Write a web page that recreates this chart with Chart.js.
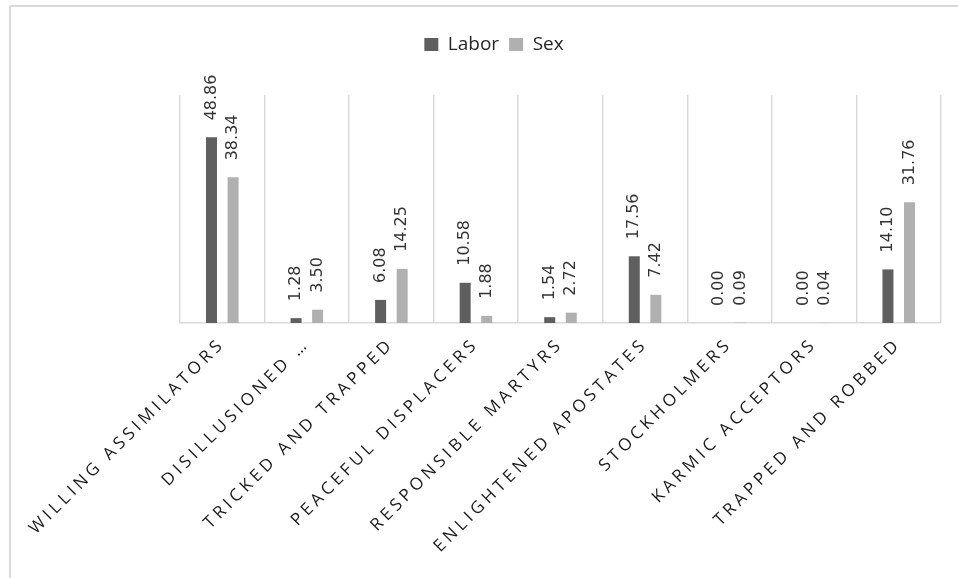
<!DOCTYPE html>
<html>
<head>
<meta charset="utf-8">
<script src="https://cdn.jsdelivr.net/npm/chart.js@4/dist/chart.umd.min.js"></script>
<style>
  html, body { margin: 0; padding: 0; background: #fff; overflow: hidden; }
  #frame { position: absolute; left: 9px; top: 5px; width: 1100px; height: 1100px; border: 2px solid #d9d9d9; border-radius: 3px; }
  #wrap { position: absolute; left: 0; top: 0; width: 958px; height: 578px; }
</style>
</head>
<body>
<div id="frame"></div>
<div id="wrap"><canvas id="chart" width="958" height="578"></canvas></div>
<script>
const categories = [
    'WILLING ASSIMILATORS',
    'DISILLUSIONED \u2026',
    'TRICKED AND TRAPPED',
    'PEACEFUL DISPLACERS',
    'RESPONSIBLE MARTYRS',
    'ENLIGHTENED APOSTATES',
    'STOCKHOLMERS',
    'KARMIC ACCEPTORS',
    'TRAPPED AND ROBBED'
];
const labor = [48.86, 1.28, 6.08, 10.58, 1.54, 17.56, 0.00, 0.00, 14.10];
const sex = [38.34, 3.50, 14.25, 1.88, 2.72, 7.42, 0.09, 0.04, 31.76];

// value labels above each bar, turned on their side
const barLabels = {
    id: 'barLabels',
    afterDatasetsDraw(chart) {
        const ctx = chart.ctx;
        chart.data.datasets.forEach((ds, i) => {
            chart.getDatasetMeta(i).data.forEach((bar, j) => {
                ctx.save();
                ctx.translate(bar.x, bar.y - 17);
                ctx.rotate(-Math.PI / 2);
                ctx.font = '16px "DejaVu Sans"';
                ctx.fillStyle = '#333333';
                ctx.textAlign = 'left';
                ctx.textBaseline = 'middle';
                ctx.fillText(ds.data[j].toFixed(2), 0, 0);
                ctx.restore();
            });
        });
    }
};

// spaced caps on the category axis, legend room and centering
const tweaks = {
    id: 'tweaks',
    beforeLayout(chart) {
        const lg = chart.legend;
        if (lg && !lg._patched) {
            const fit = lg.fit;
            lg.fit = function () {
                fit.call(this);
                this.height += 31;
            };
            lg._patched = true;
        }
    },
    afterLayout(chart) {
        const sx = chart.scales.x;
        if (!sx._spaced) {
            const orig = sx.drawLabels;
            sx.drawLabels = function (area) {
                this.ctx.save();
                this.ctx.letterSpacing = '4px';
                orig.call(this, area);
                this.ctx.restore();
            };
            sx._spaced = true;
        }
        const lg = chart.legend;
        if (lg) {
            lg.left = 0;
            lg.right = 988;
        }
    }
};

const chart = new Chart(document.getElementById('chart'), {
    type: 'bar',
    data: {
        labels: categories,
        datasets: [
            { label: 'Labor', data: labor, backgroundColor: '#5f5f5f', categoryPercentage: 0.51, barPercentage: 0.51 },
            { label: 'Sex', data: sex, backgroundColor: '#b0b0b0', categoryPercentage: 0.51, barPercentage: 0.51 }
        ]
    },
    options: {
        responsive: false,
        animation: false,
        layout: { padding: { left: 180, right: 17, top: 25, bottom: 0 } },
        plugins: {
            tooltip: { enabled: false },
            legend: {
                position: 'top',
                labels: {
                    boxWidth: 14,
                    boxHeight: 13,
                    padding: 10,
                    color: '#262626',
                    font: { family: '"Open Sans"', size: 19 }
                }
            }
        },
        scales: {
            x: {
                grid: { color: '#d9d9d9', lineWidth: 1.5, drawTicks: false, offset: true },
                border: { color: '#d9d9d9', width: 1.5 },
                ticks: {
                    autoSkip: false,
                    minRotation: 45,
                    maxRotation: 45,
                    padding: 11,
                    color: '#1a1a1a',
                    font: { family: '"Open Sans"', size: 17 }
                },
                afterFit: s => { s.height = 255; }
            },
            y: {
                display: false,
                min: 0,
                max: 60
            }
        }
    },
    plugins: [barLabels, tweaks]
});
</script>
</body>
</html>
